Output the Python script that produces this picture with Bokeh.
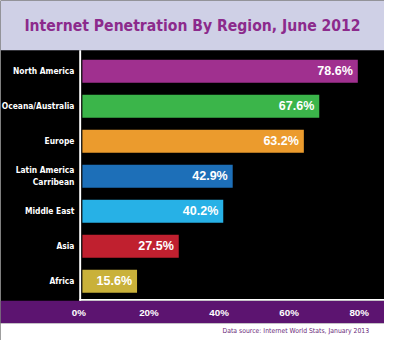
from bokeh.plotting import figure
from bokeh.models import Range1d, BoxAnnotation, ColumnDataSource
from bokeh.core.properties import value
from bokeh.embed import file_html
from bokeh.resources import INLINE

# ---- data ----
categories = ["North America", "Oceana/Australia", "Europe", "Latin America\nCarribean",
              "Middle East", "Asia", "Africa"]
values = [78.6, 67.6, 63.2, 42.9, 40.2, 27.5, 15.6]
colors = ["#a0308f", "#3bb54a", "#eb9b2d", "#1d6fb8", "#27b1e6", "#c0202f", "#c9b13a"]
tick_values = [0, 20, 40, 60, 80]
tick_labels = ["0%", "20%", "40%", "60%", "80%"]
title_text = "Internet Penetration By Region, June 2012"
source_text = "Data source: Internet World Stats, January 2013"

W, H = 384, 340
# layout helpers: reference-pixel (400x356 image) -> data units
X0, XS = 85.3, 3.65       # x pixel of 0 %, pixels per percent
Y0, YS = 74.0, 36.67      # y pixel of first bar centre, pixels per bar


def dx(px):
    return (px - X0) / XS


def dy(py):
    return (py - Y0) / YS


FONT_C = "DejaVu Sans Condensed"
FONT = "Liberation Sans"

p = figure(width=W, height=H, output_backend="svg", toolbar_location=None,
           x_axis_type=None, y_axis_type=None,
           x_range=Range1d(dx(0), dx(400)), y_range=Range1d(dy(356), dy(0)),
           min_border=0, background_fill_color="black", border_fill_color="white",
           outline_line_color=None)

# bands
p.add_layout(BoxAnnotation(bottom=dy(52), fill_color="#cfd0e6", fill_alpha=1,
                           line_alpha=0, level="underlay"))
p.add_layout(BoxAnnotation(top=dy(314.5), bottom=dy(338), fill_color="#5c1470",
                           fill_alpha=1, line_alpha=0, level="underlay"))
p.add_layout(BoxAnnotation(top=dy(338), fill_color="white",
                           fill_alpha=1, line_alpha=0, level="underlay"))
# white axis lines
p.add_layout(BoxAnnotation(left=dx(82), right=dx(84), top=dy(52), bottom=dy(314.5),
                           fill_color="white", fill_alpha=1, line_alpha=0, level="underlay"))
p.add_layout(BoxAnnotation(left=dx(82), top=dy(312.5), bottom=dy(314.5),
                           fill_color="white", fill_alpha=1, line_alpha=0, level="underlay"))

ypos = list(range(len(categories)))
src = ColumnDataSource(dict(y=ypos, v=values, c=colors, cat=categories,
                            lab=[f"{v:.1f}%" for v in values]))

p.hbar(y="y", left=0, right="v", height=0.655, fill_color="c", line_color=None, source=src)

p.text(x="v", y="y", text="lab", source=src, x_offset=-5,
       text_align="right", text_baseline="middle", text_color="white",
       text_font=value(FONT), text_font_style="bold", text_font_size=value("12.5px"))

p.text(x=dx(77), y="y", text="cat", source=src,
       text_align="right", text_baseline="middle", text_color="white",
       text_font=value(FONT_C), text_font_style="bold", text_font_size=value("8.4px"),
       text_line_height=1.15)

p.text(x=tick_values, y=[dy(326.5)] * len(tick_values), text=tick_labels, x_offset=-3.5,
       text_align="center", text_baseline="middle", text_color="white",
       text_font=value(FONT), text_font_style="bold", text_font_size=value("9.8px"))

p.text(x=[dx(200)], y=[dy(27)], text=[title_text],
       text_align="center", text_baseline="middle", text_color="#8c2a8c",
       text_font=value(FONT_C), text_font_style="bold", text_font_size=value("15.6px"))

p.text(x=[dx(384)], y=[dy(346)], text=[source_text],
       text_align="right", text_baseline="middle", text_color="#6b2a7a",
       text_font=value(FONT_C), text_font_style="normal", text_font_size=value("6.8px"))

open("out.html", "w").write(file_html(p, INLINE))
